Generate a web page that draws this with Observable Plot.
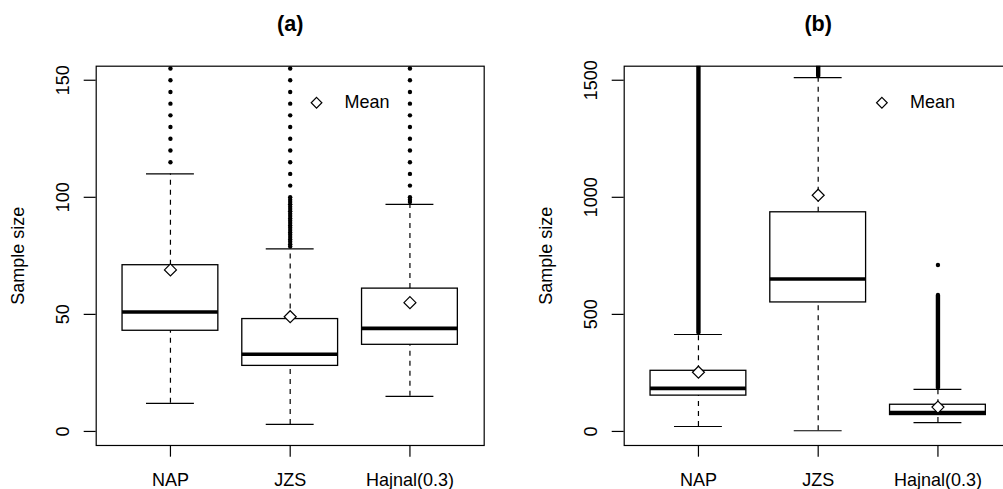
<!DOCTYPE html>
<html>
<head>
<meta charset="utf-8">
<script src="https://cdn.jsdelivr.net/npm/d3@7"></script>
<script src="https://cdn.jsdelivr.net/npm/@observablehq/plot@0.6"></script>
<style>
  html, body { margin: 0; padding: 0; background: #fff; }
  #fig { position: relative; width: 1003px; height: 489px; overflow: hidden; background: #fff; }
  .panel { position: absolute; top: 0; width: 528px; height: 489px; }
  .panel svg { max-width: none !important; }
</style>
</head>
<body>
<div id="fig"></div>
<script>
// Groups along the x axis (boxplot positions 1, 2, 3)
const groups = ["NAP", "JZS", "Hajnal(0.3)"];
const groupPos = [1, 2, 3];

// Panel (a): five-number summaries, means and outliers
const aWhiskerLow  = [12, 3, 15];
const aQ1          = [43, 28, 37];
const aMedian      = [51, 33, 44];
const aQ3          = [71, 48, 61];
const aWhiskerHigh = [110, 78, 97];
const aMean        = [69, 49, 55];
const aOutliers = [
  [115, 120, 125, 130, 135, 140, 145, 150, 155],
  [79, 80, 81, 82, 83, 84, 85, 86, 87, 88, 89, 90, 91, 92, 93, 94, 95, 96, 97, 98, 99, 100,
   105, 110, 115, 120, 125, 130, 135, 140, 145, 150, 155],
  [98, 99, 100, 105, 110, 115, 120, 125, 130, 135, 140, 145, 150, 155]
];
const aOutlierRuns = [];
const aTicks = [0, 50, 100, 150];
const aYDomain = [-6, 156];

// Panel (b)
const bWhiskerLow  = [21, 3, 38];
const bQ1          = [153, 551, 70];
const bMedian      = [184, 651, 81];
const bQ3          = [259, 936, 114];
const bWhiskerHigh = [414, 1511, 180];
const bMean        = [253, 1009, 104];
// dense outlier clouds, given as [group index, lowest, highest]
const bOutlierRuns = [[0, 420, 1600], [1, 1516, 1600], [2, 186, 581]];
const bOutliers = [[], [], [711]];
const bTicks = [0, 500, 1000, 1500];
const bYDomain = [-60, 1560];

const FONT = "'Liberation Sans', Arial, Helvetica, sans-serif";
const W = 527.7, H = 489;
const ML = 95.7, MR = 44, MT = 65.7, MB = 44;

function panel({title, yDomain, ticks, lo, q1, med, q3, hi, mean, outliers, runs, legendX, legendY}) {
  const rows = groups.map((g, i) => ({
    g, x: groupPos[i], lo: lo[i], q1: q1[i], med: med[i], q3: q3[i], hi: hi[i], mean: mean[i]
  }));
  const pts = outliers.flatMap((vals, i) => vals.map(v => ({x: groupPos[i], y: v})));
  const runRows = runs.map(([i, a, b]) => ({x: groupPos[i], y1: a, y2: b}));

  return Plot.plot({
    width: W, height: H,
    marginLeft: ML, marginRight: MR, marginTop: MT, marginBottom: MB,
    style: {fontFamily: FONT, fontSize: "18px", background: "white", color: "black", overflow: "visible", maxWidth: "none"},
    x: {domain: [0.38, 3.62]},
    y: {domain: yDomain},
    marks: [
      // whiskers
      Plot.ruleX(rows, {x: "x", y1: "q3", y2: "hi", stroke: "black", strokeWidth: 1.2, strokeDasharray: "5,5"}),
      Plot.ruleX(rows, {x: "x", y1: "lo", y2: "q1", stroke: "black", strokeWidth: 1.2, strokeDasharray: "5,5"}),
      // staples
      Plot.ruleY(rows, {y: "hi", x1: d => d.x - 0.2, x2: d => d.x + 0.2, stroke: "black", strokeWidth: 1.2}),
      Plot.ruleY(rows, {y: "lo", x1: d => d.x - 0.2, x2: d => d.x + 0.2, stroke: "black", strokeWidth: 1.2}),
      // boxes and medians
      Plot.rect(rows, {x1: d => d.x - 0.4, x2: d => d.x + 0.4, y1: "q1", y2: "q3", fill: "none", stroke: "black", strokeWidth: 1.3}),
      Plot.ruleY(rows, {y: "med", x1: d => d.x - 0.4, x2: d => d.x + 0.4, stroke: "black", strokeWidth: 3.6}),
      // outliers
      Plot.ruleX(runRows, {x: "x", y1: "y1", y2: "y2", stroke: "black", strokeWidth: 4.4, strokeLinecap: "round", clip: true}),
      Plot.dot(pts, {x: "x", y: "y", r: 2.2, fill: "black", stroke: "none", clip: true}),
      // means
      Plot.dot(rows, {x: "x", y: "mean", symbol: "diamond2", r: 5.4, fill: "white", stroke: "black", strokeWidth: 1.2}),
      // legend
      Plot.dot([0], {x: () => legendX, y: () => legendY, symbol: "diamond2", r: 4.8, fill: "white", stroke: "black", strokeWidth: 1.2}),
      Plot.text(["Mean"], {x: () => legendX, y: () => legendY, text: d => d, dx: 28, textAnchor: "start", lineAnchor: "middle", fontSize: 18, fill: "black"}),
      // frame and axes
      Plot.frame({stroke: "black", strokeWidth: 1.2}),
      Plot.axisX(groupPos, {tickSize: 11.7, tickPadding: 15.6, tickFormat: i => groups[i - 1], label: null, fontSize: 18, stroke: "black", strokeWidth: 1.2, fill: "black"}),
      Plot.axisY(ticks, {tickSize: 12, tickFormat: () => "", label: null, stroke: "black", strokeWidth: 1.2}),
      Plot.text(ticks, {y: d => d, text: d => String(d), frameAnchor: "left", dx: -26.7, rotate: -90, textAnchor: "middle", lineAnchor: "bottom", fontSize: 18, fill: "black"}),
      Plot.text(["Sample size"], {text: d => d, frameAnchor: "left", dx: 23.5 - ML, rotate: -90, textAnchor: "middle", lineAnchor: "bottom", fontSize: 18, fill: "black"}),
      // panel title
      Plot.text([title], {text: d => d, frameAnchor: "top", dy: 31 - MT, lineAnchor: "bottom", fontSize: 21.6, fontWeight: "bold", fill: "black"})
    ]
  });
}

const fig = document.getElementById("fig");

const pa = panel({
  title: "(a)", yDomain: aYDomain, ticks: aTicks,
  lo: aWhiskerLow, q1: aQ1, med: aMedian, q3: aQ3, hi: aWhiskerHigh, mean: aMean,
  outliers: aOutliers, runs: aOutlierRuns, legendX: 2.22, legendY: 140.4
});
const pb = panel({
  title: "(b)", yDomain: bYDomain, ticks: bTicks,
  lo: bWhiskerLow, q1: bQ1, med: bMedian, q3: bQ3, hi: bWhiskerHigh, mean: bMean,
  outliers: bOutliers, runs: bOutlierRuns, legendX: 2.532, legendY: 1404
});

const da = document.createElement("div");
da.className = "panel"; da.style.left = "0px"; da.appendChild(pa);
const db = document.createElement("div");
db.className = "panel"; db.style.left = "527.6px"; db.appendChild(pb);
fig.appendChild(da);
fig.appendChild(db);
</script>
</body>
</html>
